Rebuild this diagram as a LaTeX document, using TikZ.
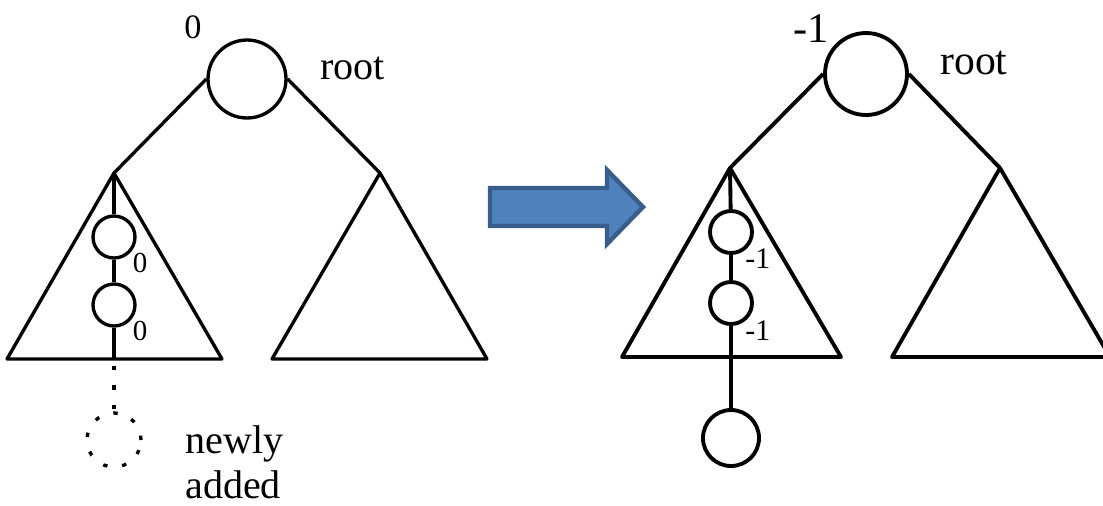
\documentclass[tikz,border=0pt]{standalone}
\usepackage{fontspec}
\setmainfont{Liberation Serif}
\definecolor{arrowfill}{RGB}{79,129,189}
\definecolor{arrowedge}{RGB}{56,93,138}
\begin{document}
\begin{tikzpicture}[x=0.02cm,y=-0.02cm,
  treeline/.style={line width=1.9pt,line join=round},
  treeline2/.style={line width=2.2pt,line join=round},
  bignode/.style={circle,draw,line width=1.9pt,minimum size=1.56cm,inner sep=0pt},
  bignode2/.style={circle,draw,line width=2.2pt,minimum size=1.64cm,inner sep=0pt},
  smallnode/.style={circle,draw,line width=1.9pt,minimum size=0.84cm,inner sep=0pt},
  smallnode2/.style={circle,draw,line width=2.2pt,minimum size=0.84cm,inner sep=0pt},
  newnode/.style={circle,draw,line width=2.2pt,minimum size=1.12cm,inner sep=0pt},
  dotpat/.style={line width=1.9pt,dash pattern=on 2.5pt off 8.5pt},
  dotnode/.style={circle,draw,dotpat,minimum size=1.08cm,inner sep=0pt},
  biglabel/.style={inner sep=0pt,anchor=base west,font=\fontsize{22.8pt}{26pt}\selectfont},
  toplabel/.style={inner sep=0pt,anchor=base,font=\fontsize{19.5pt}{22pt}\selectfont},
  smalllabel/.style={inner sep=0pt,anchor=base,font=\fontsize{16.5pt}{19pt}\selectfont},
  smalllabel2/.style={inner sep=0pt,anchor=base west,font=\fontsize{17pt}{20pt}\selectfont}
]
\useasboundingbox (0,0) rectangle (1103,505);

% ---------- left tree ----------
\node[bignode] (rootL) at (247,79) {};
\node[toplabel] (zeroL) at (193,38) {0};
\node[biglabel] (rootTextL) at (320,79) {root};
\coordinate (apexL) at (114,173);
\coordinate (apexRL) at (380,173);
\draw[treeline] (rootL.west) -- (apexL);
\draw[treeline] (rootL.east) -- (apexRL);
\draw[treeline] (7,359) -- (apexL) -- (222,359) -- cycle;
\draw[treeline] (272,359) -- (apexRL) -- (487,359) -- cycle;
\node[smallnode] (c1L) at (114,237) {};
\node[smallnode] (c2L) at (114,305) {};
\coordinate (baseL) at (114,359);
\draw[treeline] (apexL) -- (c1L);
\draw[treeline] (c1L) -- (c2L);
\draw[treeline] (c2L) -- (baseL);
\node[smalllabel] (l1L) at (140,272) {0};
\node[smalllabel] (l2L) at (140,340) {0};
\node[dotnode] (newL) at (114,440) {};
\draw[dotpat] ([yshift=-4pt]baseL) -- (newL);
\node[biglabel] (newlyText) at (185,453) {newly};
\node[biglabel] (addedText) at (185,498) {added};

% ---------- arrow ----------
\draw[line width=2.5pt,fill=arrowfill,draw=arrowedge,line join=miter]
  (490,188) -- (607,188) -- (607,170) -- (643,207) -- (607,244) -- (607,226) -- (490,226) -- cycle;

% ---------- right tree ----------
\node[bignode2] (rootR) at (866,74) {};
\node[biglabel,font=\fontsize{24pt}{27pt}\selectfont] (m1R) at (793,42) {-1};
\node[biglabel,font=\fontsize{23.7pt}{27pt}\selectfont] (rootTextR) at (940,74) {root};
\coordinate (apexR) at (730,168);
\coordinate (apexRR) at (1000,168);
\draw[treeline2] (rootR.west) -- (apexR);
\draw[treeline2] (rootR.east) -- (apexRR);
\draw[treeline2] (622,357) -- (apexR) -- (841,357) -- cycle;
\draw[treeline2] (892,357) -- (apexRR) -- (1110,357) -- cycle;
\node[smallnode2] (c1R) at (731,232) {};
\node[smallnode2] (c2R) at (731,303) {};
\node[newnode] (newR) at (731,438) {};
\draw[treeline2] (apexR) -- (c1R);
\draw[treeline2] (c1R) -- (c2R);
\draw[treeline2] (c2R) -- (newR);
\node[smalllabel2] (l1R) at (745,268) {-1};
\node[smalllabel2] (l2R) at (745,340) {-1};
\end{tikzpicture}
\end{document}
